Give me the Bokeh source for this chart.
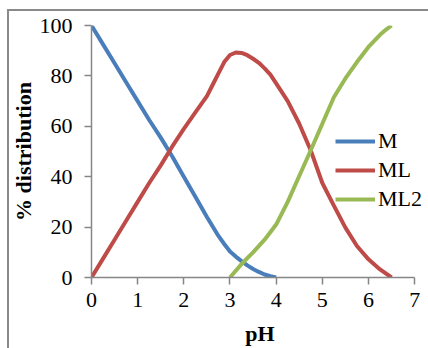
from bokeh.plotting import figure
from bokeh.embed import file_html
from bokeh.resources import INLINE
from bokeh.models import FixedTicker, InlineStyleSheet

# pH values and % distribution
ph_m = [0, 0.25, 0.5, 0.75, 1, 1.25, 1.5, 1.75, 2, 2.25, 2.5, 2.75, 2.875, 3, 3.125,
        3.25, 3.375, 3.5, 3.625, 3.75, 3.875, 4]
m_vals = [100, 92.5, 85, 77.5, 70, 62.5, 55.5, 48, 40, 32, 24, 16.5, 13.3, 10.3, 8.3,
          6.5, 4.8, 3.4, 2.2, 1.2, 0.5, 0]

ph_ml = [0, 0.25, 0.5, 0.75, 1, 1.25, 1.5, 1.75, 2, 2.25, 2.5, 2.625, 2.75, 2.875, 3,
         3.125, 3.25, 3.375, 3.5, 3.625, 3.75, 3.875, 4, 4.25, 4.5, 4.75, 5, 5.25,
         5.5, 5.75, 6, 6.25, 6.5]
ml_vals = [0, 7.5, 15, 22.5, 30, 37.5, 44.5, 52, 59, 65.5, 72, 76.5, 81, 85.5, 88.3,
           89.3, 89.1, 88.2, 86.8, 85.2, 83, 80.5, 77, 70, 61, 50.4, 37.5, 28.5,
           19.8, 12.5, 7.2, 3.2, 0]

ph_ml2 = [3, 3.125, 3.25, 3.375, 3.5, 3.75, 4, 4.25, 4.5, 4.75, 5, 5.25, 5.5, 5.75,
          6, 6.25, 6.375, 6.5]
ml2_vals = [0, 2.7, 5.3, 7.7, 10, 15, 21, 30, 40.3, 50.5, 61, 71.5, 79, 85.5,
            91.5, 96.3, 98.3, 100]

x_ticks = [0, 1, 2, 3, 4, 5, 6, 7]
y_ticks = [0, 20, 40, 60, 80, 100]

p = figure(width=428, height=348, output_backend="svg", toolbar_location=None,
           x_range=(0, 7.30), y_range=(0, 100),
           min_border_left=91, min_border_right=0, min_border_top=25, min_border_bottom=70)

# chart-area border: top and left edges, as in the reference
p.stylesheets = [InlineStyleSheet(css=(
    ":host { position: relative; }"
    ":host::after { content: ''; position: absolute; left: 7px; top: 9px;"
    " width: 421px; height: 339px; border-left: 2px solid #8a8a8a;"
    " border-top: 2px solid #8a8a8a; box-sizing: border-box; pointer-events: none; }"
))]

p.line(ph_m, m_vals, line_color="#4a7ebb", line_width=4, line_join="round", legend_label="M")
p.line(ph_ml, ml_vals, line_color="#be4b48", line_width=4, line_join="round", legend_label="ML")
p.line(ph_ml2, ml2_vals, line_color="#98b954", line_width=4, line_join="round", legend_label="ML2")

p.grid.visible = False
p.outline_line_color = None
p.background_fill_color = "white"
p.border_fill_color = "white"

for ax in (p.xaxis[0], p.yaxis[0]):
    ax.axis_line_color = "#868686"
    ax.axis_line_width = 1.5
    ax.major_tick_line_color = "#868686"
    ax.major_tick_line_width = 1.5
    ax.major_tick_out = 7
    ax.major_tick_in = 0
    ax.minor_tick_line_color = None
    ax.major_label_text_font = "Liberation Serif"
    ax.major_label_text_font_size = "22px"
    ax.major_label_text_color = "black"
    ax.axis_label_text_font = "Liberation Serif"
    ax.axis_label_text_font_size = "22px"
    ax.axis_label_text_font_style = "bold"
    ax.axis_label_text_color = "black"

p.xaxis[0].bounds = (0, 7)
p.xaxis[0].ticker = FixedTicker(ticks=x_ticks)
p.yaxis[0].ticker = FixedTicker(ticks=y_ticks)
p.xaxis[0].axis_label = "pH"
p.yaxis[0].axis_label = "% distribution"
p.xaxis[0].major_label_standoff = 8
p.yaxis[0].major_label_standoff = 12
p.xaxis[0].axis_label_standoff = 11
p.yaxis[0].axis_label_standoff = 1

lg = p.legend[0]
lg.location = (244, 65)
lg.border_line_color = None
lg.background_fill_alpha = 0
lg.label_text_font = "Liberation Serif"
lg.label_text_font_size = "22px"
lg.label_text_color = "black"
lg.glyph_width = 40
lg.glyph_height = 20
lg.label_standoff = 3
lg.spacing = 3
lg.padding = 0
lg.margin = 0

open("out.html", "w").write(file_html(p, INLINE))
